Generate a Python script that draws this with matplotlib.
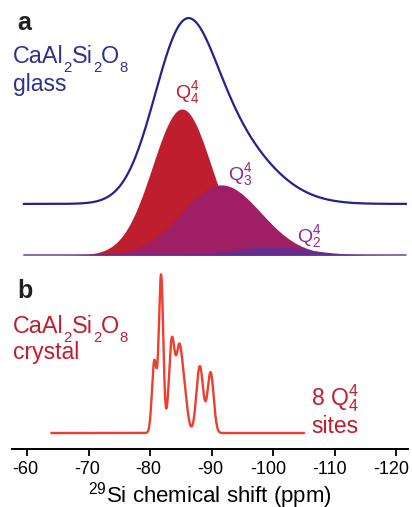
import numpy as np
import matplotlib
matplotlib.use("Agg")
import matplotlib.pyplot as plt
from matplotlib.transforms import ScaledTranslation

plt.rcParams['font.family'] = ['Liberation Sans', 'DejaVu Sans']
plt.rcParams['mathtext.fontset'] = 'custom'
plt.rcParams['mathtext.rm'] = 'Liberation Sans'
plt.rcParams['mathtext.it'] = 'Liberation Sans:italic'
plt.rcParams['mathtext.bf'] = 'Liberation Sans:bold'

# ---------------- data ----------------
# panel a: Gaussian components of the glass spectrum (centre ppm, sigma ppm, relative height)
comp_labels = ['Q$^4_4$', 'Q$^4_3$', 'Q$^4_2$']
comp_centers = [-85.2, -91.6, -100.0]
comp_sigmas = [4.8, 6.4, 6.0]
comp_heights = [1.0, 0.48, 0.055]
glass_scale = 0.965        # envelope height relative to sum of components
glass_offset = 0.35        # vertical offset of the glass envelope
glass_range = (-59.5, -121.6)

# panel b: crystal spectrum sites (centre ppm, sigma ppm, relative height)
cryst_centers = [-80.7, -81.8, -83.55, -84.7, -85.5, -88.1, -89.85]
cryst_sigmas = [0.38, 0.36, 0.47, 0.47, 0.55, 0.55, 0.50]
cryst_heights = [0.45, 0.99, 0.58, 0.44, 0.26, 0.42, 0.38]
cryst_range = (-64.0, -105.0)

xticks = [-60, -70, -80, -90, -100, -110, -120]
xlim = (-57.56, -121.95)

# colours
navy = '#23238C'
navy_text = '#2E3192'
red_fill = '#BE1E2D'
purple_fill = '#9E1F63'
violet_fill = '#662D91'
purple_text = '#92278F'
red_text = '#BE1E2D'
cryst_line = '#EF3E2E'

W, H = 412, 507
fig = plt.figure(figsize=(W / 100, H / 100), dpi=100)

def fx(px):
    return px / W

def fy(py):
    return 1 - py / H

ax_left, ax_right = 12, 408
axa = fig.add_axes([fx(ax_left), fy(260), fx(ax_right - ax_left), 260 / H])
axb = fig.add_axes([fx(ax_left), fy(449), fx(ax_right - ax_left), (449 - 260) / H])

def gauss(x, c, s, h):
    return h * np.exp(-0.5 * ((x - c) / s) ** 2)

# ---- panel a ----
xa = np.linspace(glass_range[0], glass_range[1], 1500)
comps = [gauss(xa, c, s, h) for c, s, h in zip(comp_centers, comp_sigmas, comp_heights)]
fills = [red_fill, purple_fill, violet_fill]
for yv, col, z in zip(comps, fills, [1, 2, 3]):
    axa.fill_between(xa, 0, yv, color=col, lw=0, zorder=z)
axa.plot(xa, np.zeros_like(xa), color=violet_fill, lw=1.0, zorder=4)
glass = glass_scale * np.sum(comps, axis=0) + glass_offset
axa.plot(xa, glass, color=navy, lw=1.6, zorder=5)

scale_a = 146.0
axa.set_ylim(-5 / scale_a, 255 / scale_a)
axa.set_xlim(*xlim)
axa.axis('off')

# ---- panel b ----
xb = np.linspace(cryst_range[0], cryst_range[1], 3000)
cryst = np.sum([gauss(xb, c, s, h) for c, s, h in zip(cryst_centers, cryst_sigmas, cryst_heights)], axis=0)
axb.plot(xb, cryst, color=cryst_line, lw=1.7)
scale_b = 159.0
axb.set_ylim(-16 / scale_b, (189 - 16) / scale_b)
axb.set_xlim(*xlim)
for sp in ['left', 'right', 'top']:
    axb.spines[sp].set_visible(False)
axb.spines['bottom'].set_linewidth(1.4)
axb.set_yticks([])
axb.set_xticks(xticks)
axb.set_xticklabels([str(t) for t in xticks])
axb.tick_params(axis='x', direction='out', length=5, width=1.3, labelsize=13, pad=4)
for lab in axb.get_xticklabels():
    dx = -5 if len(lab.get_text()) >= 4 else -1.5
    lab.set_transform(lab.get_transform() + ScaledTranslation(dx / 100, 0, fig.dpi_scale_trans))
axb.set_xlabel('$^{29}$Si chemical shift (ppm)', fontsize=16, labelpad=1)

# ---- text ----
renderer = fig.canvas.get_renderer()

def txt(x, y, s, **kw):
    return fig.text(fx(x), fy(y), s, va='baseline', ha='left', **kw)

def formula(x, y, pieces, size, color):
    cur = x
    for s, sub in pieces:
        if sub:
            t = txt(cur, y + 0.37 * size * 100 / 72, s, fontsize=size * 0.64, color=color)
        else:
            t = txt(cur, y, s, fontsize=size, color=color)
        cur += t.get_window_extent(renderer).width

formula_pieces = [('CaAl', False), ('2', True), ('Si', False), ('2', True), ('O', False), ('8', True)]

txt(17, 30, 'a', fontsize=18, fontweight='bold', color='#231F20')
formula(13, 63, formula_pieces, 16.8, navy_text)
txt(13, 91, 'glass', fontsize=16.5, color=navy_text)
txt(175, 98, comp_labels[0], fontsize=14, color=red_text)
txt(228, 180, comp_labels[1], fontsize=14, color=purple_text)
txt(297, 242, comp_labels[2], fontsize=14, color=purple_text)

txt(17, 298, 'b', fontsize=18, fontweight='bold', color='#231F20')
formula(13, 333, formula_pieces, 16.8, red_text)
txt(13, 359, 'crystal', fontsize=16.5, color=red_text)
txt(311, 405, '8 Q$^4_4$', fontsize=16.5, color=red_text)
txt(311, 433, 'sites', fontsize=16.5, color=red_text)

fig.savefig('out.png', dpi=100)
